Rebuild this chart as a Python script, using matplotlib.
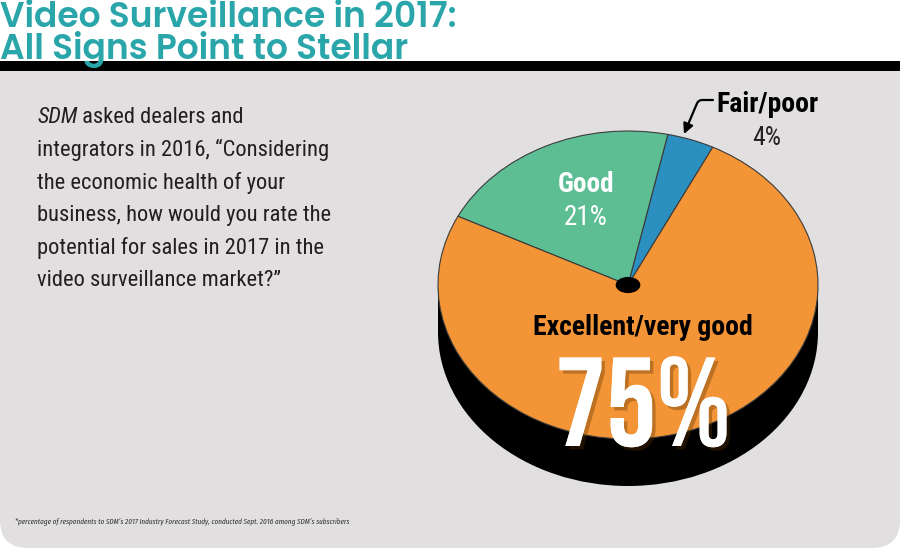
import matplotlib
matplotlib.use("Agg")
import matplotlib.pyplot as plt
from matplotlib.patches import Rectangle, FancyBboxPatch, Circle, Ellipse
import matplotlib.patheffects as pe

# ---- data ----
categories = ["Fair/poor", "Good", "Excellent/very good"]
values = [4, 21, 75]
colors = ["#2b8fc0", "#5dbe94", "#f39436"]

title_lines = ["Video Surveillance in 2017:", "All Signs Point to Stellar"]
question_first = " asked dealers and"
question_lines = [
    "integrators in 2016, \u201cConsidering",
    "the economic health of your",
    "business, how would you rate the",
    "potential for sales in 2017 in the",
    "video surveillance market?\u201d",
]
footnote = ("*percentage of respondents to SDM\u2019s 2017 Industry Forecast Study, "
            "conducted Sept. 2016 among SDM\u2019s subscribers")

COND = ["Roboto Condensed", "DejaVu Sans"]
XCOND = ["Fira Sans Extra Condensed", "Roboto Condensed", "DejaVu Sans"]
BIG = ["Bebas Neue", "League Gothic", "DejaVu Sans"]
TITLE_FONT = ["Poppins", "DejaVu Sans"]

W, H = 900, 550
fig = plt.figure(figsize=(W / 100, H / 100), dpi=100)
fig.patch.set_facecolor("white")

# background axes in pixel coordinates
bg = fig.add_axes([0, 0, 1, 1], zorder=0)
bg.set_xlim(0, W)
bg.set_ylim(H, 0)
bg.axis("off")
bg.add_patch(FancyBboxPatch((0, 30), W, 518, boxstyle="round,pad=0,rounding_size=28",
                            fc="#e1dfdf", ec="none"))
bg.add_patch(Rectangle((0, 0), W, 61, fc="white", ec="none"))
bg.add_patch(Rectangle((0, 61), W, 10, fc="black", ec="none"))

# pie axes (tilted: circle squashed vertically)
cx, cy, rx, ry, depth_px = 628, 285, 190, 154, 47
d = depth_px / ry
m = 0.04
left = (cx - rx * (1 + m)) / W
width = rx * 2 * (1 + m) / W
top_px = cy - ry * (1 + m)
bot_px = cy + ry * (1 + d + m)
pax = fig.add_axes([left, 1 - bot_px / H, width, (bot_px - top_px) / H], zorder=1)
pax.add_patch(Circle((0, -d), 1, fc="black", ec="none", zorder=0.5))
pax.add_patch(Rectangle((-1, -d), 2, d, fc="black", ec="none", zorder=0.5))
pax.pie(values, colors=colors, startangle=63.5, counterclock=True, radius=1,
        wedgeprops=dict(edgecolor="#3b3b3b", linewidth=0.8))
pax.add_patch(Ellipse((0, 0), 0.13, 0.105, fc="black", ec="none", zorder=5))
pax.set_aspect("auto")
pax.set_xlim(-1 - m, 1 + m)
pax.set_ylim(-1 - d - m, 1 + m)
pax.axis("off")

# overlay for texts
ov = fig.add_axes([0, 0, 1, 1], zorder=3)
ov.set_xlim(0, W)
ov.set_ylim(H, 0)
ov.axis("off")
ov.patch.set_visible(False)

teal = "#2aa6ab"
ov.text(0, 1, "\n".join(title_lines), family=TITLE_FONT, weight=600, fontsize=24.8,
        color=teal, va="top", ha="left", linespacing=0.82)

txtc = "#231f20"
qs = 16.2
t0 = ov.text(37, 123, "SDM", family=COND, style="italic", fontsize=qs,
             color=txtc, va="baseline", ha="left")
ov.annotate(question_first, xy=(1, 0), xycoords=t0, va="bottom", ha="left",
            family=COND, fontsize=qs, color=txtc)
for i, line in enumerate(question_lines):
    ov.text(37, 156 + i * 32.6, line, family=COND, fontsize=qs, color=txtc,
            va="baseline", ha="left")

# pie labels
ov.text(716, 112, categories[0], family=COND, weight="bold", fontsize=20,
        color="black", va="baseline", ha="left")
ov.text(767, 145, f"{values[0]}%", family=COND, fontsize=18.5, color=txtc,
        va="baseline", ha="center")
ov.annotate("", xy=(684, 134), xytext=(713, 100),
            arrowprops=dict(arrowstyle="-|>,head_length=0.6,head_width=0.3",
                            connectionstyle="angle,angleA=180,angleB=67,rad=4",
                            color="black", lw=1.6, shrinkA=0, shrinkB=0))
ov.text(586, 192, categories[1], family=COND, weight="bold", fontsize=19.5,
        color="white", va="baseline", ha="center")
ov.text(586, 225, f"{values[1]}%", family=COND, fontsize=19.5, color="white",
        va="baseline", ha="center")
ov.text(643, 335, categories[2], family=COND, weight="bold", fontsize=20,
        color="black", va="baseline", ha="center")
big = ov.text(643, 446, f"{values[2]}%", family=BIG, fontsize=91,
              color="white", va="baseline", ha="center")
big.set_path_effects([pe.withSimplePatchShadow(offset=(2.5, -2.5), shadow_rgbFace="#5a3000",
                                               alpha=0.35), pe.Normal()])

ov.text(15, 524, footnote, family=XCOND, style="italic", fontsize=5.6,
        color="#333333", va="baseline", ha="left")

fig.savefig("out.png", dpi=100, facecolor="white")
